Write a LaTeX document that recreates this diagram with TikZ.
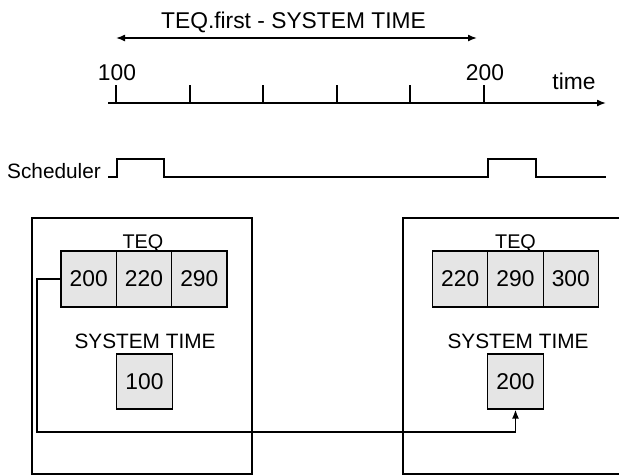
\documentclass[tikz,border=0pt]{standalone}
\usepackage{fontspec}
\setmainfont{Liberation Sans}
\usetikzlibrary{arrows.meta}
\begin{document}
\begin{tikzpicture}[x=1pt,y=-1pt,
  every node/.style={font=\fontsize{20.8}{24}\selectfont, inner sep=0pt},
  big/.style={font=\fontsize{22.8}{26}\selectfont},
  lbl/.style={anchor=base},
  cell/.style={draw, line width=1.2pt, fill=black!10, minimum width=55.3pt, minimum height=56pt, big},
  ln/.style={line width=1.5pt},
  tip/.style={-{Latex[length=9pt,width=7pt]}},
  tips/.style={{Latex[length=9pt,width=7pt]}-{Latex[length=9pt,width=7pt]}}]
\useasboundingbox (0,0) rectangle (619,475);
% top arrow
\coordinate (ta) at (116,38);
\coordinate (tb) at (477,38);
\draw[ln,tips] (ta) -- (tb);
\node[lbl,big] (tlab) at (293.5,28) {TEQ.first - SYSTEM TIME};
% time axis
\coordinate (ax0) at (108,103);
\coordinate (ax1) at (606,103);
\draw[ln,tip] (ax0) -- (ax1);
\foreach \x in {116,190,263,337,410,484} \draw[ln] (\x,85) -- (\x,103);
\node[lbl,big] (l100) at (117,80) {100};
\node[lbl,big] (l200) at (485,80) {200};
\node[lbl,big] (ltime) at (574,89) {time};
% scheduler
\node[lbl] (sched) at (54,178) {Scheduler};
\draw[ln] (108,177) -- (117,177) -- (117,159) -- (164,159) -- (164,177) -- (488,177) -- (488,159) -- (536,159) -- (536,177) -- (606,177);
% outer boxes
\draw[ln] (32,218) rectangle (252,474);
\draw[ln] (619,218) -- (403,218) -- (403,474) -- (619,474);
% left panel
\node[lbl,font=\fontsize{19.8}{23}\selectfont] (teqL) at (143,248) {TEQ};
\node[cell] (a1) at (88.7,279) {200};
\node[cell] (a2) at (144,279) {220};
\node[cell] (a3) at (199.3,279) {290};
\node[lbl] (stL) at (145,348) {SYSTEM TIME};
\node[cell, minimum height=55pt] (s1) at (144.5,381.5) {100};
% right panel
\node[lbl,font=\fontsize{19.8}{23}\selectfont] (teqR) at (515.5,248) {TEQ};
\node[cell] (b1) at (460.2,279) {220};
\node[cell] (b2) at (515.5,279) {290};
\node[cell] (b3) at (570.8,279) {300};
\node[lbl] (stR) at (518,348) {SYSTEM TIME};
\node[cell, minimum height=55pt] (s2) at (515.5,381.5) {200};
% connector
\coordinate (c1) at (37,279);
\coordinate (c2) at (37,432);
\draw[ln,tip] (a1.west) -- (c1) -- (c2) -| (s2.south);
\end{tikzpicture}
\end{document}
